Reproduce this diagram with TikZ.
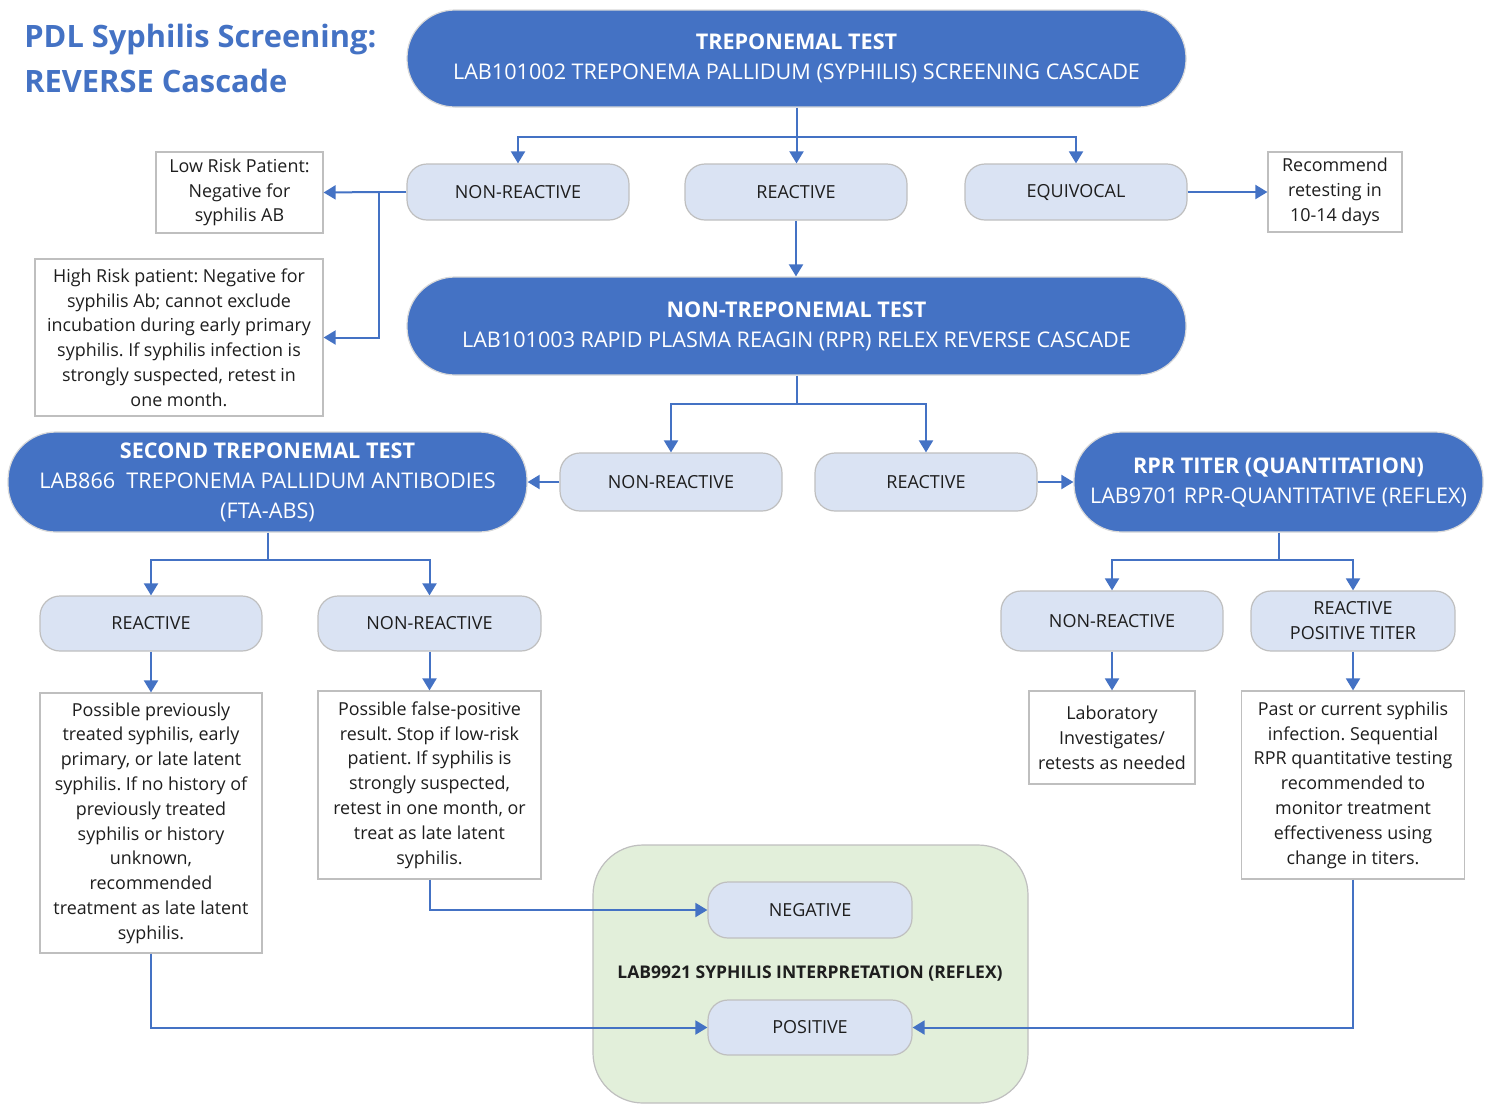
\documentclass[tikz,border=0pt]{standalone}
\usepackage{fontspec}
\setmainfont{Open Sans}
\frenchspacing
\usetikzlibrary{arrows.meta}
\definecolor{mainblue}{HTML}{4472C4}
\definecolor{pillfill}{HTML}{DAE3F3}
\definecolor{greenfill}{HTML}{E2EFDA}
\definecolor{darktext}{HTML}{1E1E1E}
\definecolor{boxline}{HTML}{BFBFBF}
\tikzset{
  sz/.style 2 args={minimum width=#1*0.5pt, minimum height=#2*0.5pt, inner sep=0pt},
  bigpill/.style={draw=boxline!60, line width=0.6pt, fill=mainblue, text=white, align=center,
    font=\fontsize{10.8}{15}\selectfont},
  pill/.style={draw=boxline, line width=0.6pt, fill=pillfill, text=darktext, align=center,
    rounded corners=10pt, font=\fontsize{9}{12.5}\selectfont},
  note/.style={draw=boxline, line width=0.6pt, fill=white, text=darktext, align=center,
    font=\fontsize{8.95}{12.4}\selectfont},
  conn/.style={draw=mainblue, line width=1pt},
  arr/.style={conn, -{Triangle[length=6pt,width=7pt]}},
}
\begin{document}
\begin{tikzpicture}[x=0.5pt,y=-0.5pt]
\useasboundingbox (0,0) rectangle (1491,1104);
% title
\node[anchor=west, align=left, text=mainblue, font=\fontsize{15.4}{22.5}\selectfont\bfseries, inner sep=0pt]
  (title) at (24,58) {PDL Syphilis Screening:\\REVERSE Cascade};
% green interpretation area
\node[draw=boxline, line width=0.6pt, fill=greenfill, rounded corners=25pt, sz={435}{258}] (green) at (810.5,974) {};
\node[text=darktext, font=\fontsize{8.75}{10}\selectfont\bfseries, inner sep=0pt] (interp) at (810,974) {LAB9921 SYPHILIS INTERPRETATION (REFLEX)};
% top level
\node[bigpill, sz={779}{97}, rounded corners=24pt] (top) at (796.5,58.5)
  {\textbf{TREPONEMAL TEST}\\LAB101002 TREPONEMA PALLIDUM (SYPHILIS) SCREENING CASCADE};
\node[pill, sz={222}{56}] (nr1) at (518,192) {NON-REACTIVE};
\node[pill, sz={222}{56}] (r1) at (796,192) {REACTIVE};
\node[pill, sz={222}{56}] (eq1) at (1076,192) {EQUIVOCAL};
\node[note, sz={167}{81}] (low) at (239.5,192.5) {Low Risk Patient:\\Negative for\\syphilis AB};
\node[note, sz={288}{157}] (high) at (179,337.5) {High Risk patient: Negative for\\syphilis Ab; cannot exclude\\incubation during early primary\\syphilis. If syphilis infection is\\strongly suspected, retest in\\one month.};
\node[note, sz={134}{80}] (rec) at (1335,192) {Recommend\\retesting in\\10-14 days};
% non-treponemal
\node[bigpill, sz={779}{98}, rounded corners=24pt] (nt) at (796.5,326)
  {\textbf{NON-TREPONEMAL TEST}\\LAB101003 RAPID PLASMA REAGIN (RPR) RELEX REVERSE CASCADE};
\node[pill, sz={222}{58}] (nr2) at (671,482) {NON-REACTIVE};
\node[pill, sz={222}{58}] (r2) at (926,482) {REACTIVE};
\node[bigpill, sz={519}{100}, rounded corners=24pt] (sec) at (267.5,482)
  {\textbf{SECOND TREPONEMAL TEST}\\LAB866\ \ TREPONEMA PALLIDUM ANTIBODIES\\(FTA-ABS)};
\node[bigpill, sz={409}{100}, rounded corners=24pt] (rpr) at (1278.5,482)
  {\textbf{RPR TITER (QUANTITATION)}\\LAB9701 RPR-QUANTITATIVE (REFLEX)};
% left branch
\node[pill, sz={222}{55}] (r3) at (151,623.5) {REACTIVE};
\node[pill, sz={223}{55}] (nr3) at (429.5,623.5) {NON-REACTIVE};
\node[note, sz={222}{260}] (boxA) at (151,823) {Possible previously\\treated syphilis, early\\primary, or late latent\\syphilis. If no history of\\previously treated\\syphilis or history\\unknown,\\recommended\\treatment as late latent\\syphilis.};
\node[note, sz={223}{188}] (boxB) at (429.5,785) {Possible false-positive\\result. Stop if low-risk\\patient. If syphilis is\\strongly suspected,\\retest in one month, or\\treat as late latent\\syphilis.};
% right branch
\node[pill, sz={222}{60}] (nr4) at (1112,621) {NON-REACTIVE};
\node[pill, sz={204}{60}] (r4) at (1353,621) {REACTIVE\\POSITIVE TITER};
\node[note, sz={166}{93}] (lab) at (1112,737.5) {Laboratory\\Investigates/\\retests as needed};
\node[note, sz={223}{188}] (past) at (1353,785) {Past or current syphilis\\infection. Sequential\\RPR quantitative testing\\recommended to\\monitor treatment\\effectiveness using\\change in titers.};
% interpretation
\node[pill, sz={204}{56}] (neg) at (810,910) {NEGATIVE};
\node[pill, sz={204}{55}] (pos) at (810,1027.5) {POSITIVE};
% connectors
\coordinate (j1) at (796.5,137);
\draw[conn] (top.south) -- (j1);
\draw[arr] (j1) -| (nr1.north);
\draw[arr] (j1) -| (eq1.north);
\draw[arr] (j1) -- (r1.north -| j1);
\coordinate (j2) at (379,192);
\draw[conn] (nr1.west) -- (j2);
\draw[arr] (j2) -- (low.east);
\draw[arr] (j2) |- (high.east);
\draw[arr] (eq1.east) -- (rec.west);
\draw[arr] (r1.south) -- (nt.north -| r1.south);
\coordinate (j3) at (796.5,404);
\draw[conn] (nt.south) -- (j3);
\draw[arr] (j3) -| (nr2.north);
\draw[arr] (j3) -| (r2.north);
\draw[arr] (nr2.west) -- (sec.east);
\draw[arr] (r2.east) -- (rpr.west);
\coordinate (j4) at (267.5,560);
\draw[conn] (sec.south) -- (j4);
\draw[arr] (j4) -| (r3.north);
\draw[arr] (j4) -| (nr3.north);
\coordinate (j5) at (1278.5,560);
\draw[conn] (rpr.south) -- (j5);
\draw[arr] (j5) -| (nr4.north);
\draw[arr] (j5) -| (r4.north);
\draw[arr] (r3.south) -- (boxA.north);
\draw[arr] (nr3.south) -- (boxB.north);
\draw[arr] (nr4.south) -- (lab.north);
\draw[arr] (r4.south) -- (past.north -| r4.south);
\draw[arr] (boxB.south) |- (neg.west);
\draw[arr] (boxA.south) |- (pos.west);
\draw[arr] (past.south) |- (pos.east);
\end{tikzpicture}
\end{document}
